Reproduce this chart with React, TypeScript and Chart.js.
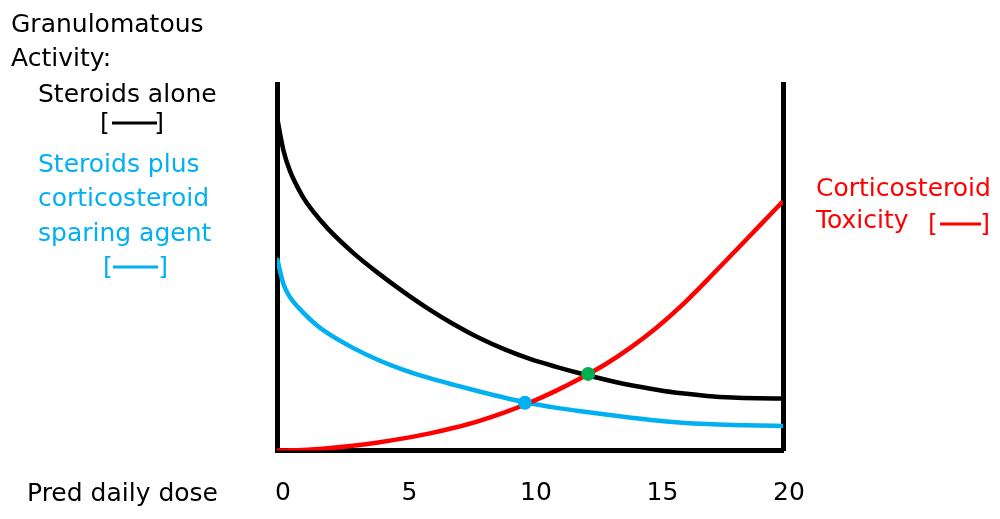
import React, { useEffect, useRef } from "react";
import { Chart, registerables } from "chart.js";

Chart.register(...registerables);

// ---- Data ----
const doseX = [0, 0.25, 0.5, 1, 1.5, 2, 3, 4, 5, 6, 7, 8, 9, 10, 11, 12, 13, 14, 15, 16, 17, 18, 19, 20];
const steroidsAlone = [91, 82, 76.5, 69.5, 64.6, 60.6, 54.0, 48.4, 43.3, 38.6, 34.4, 30.7, 27.6, 25.0, 22.9, 21.0, 19.3, 17.8, 16.6, 15.6, 14.9, 14.45, 14.25, 14.2];
const steroidsPlusSparing = [52.5, 45.5, 42.0, 37.9, 34.6, 32.0, 28.0, 24.7, 22.0, 19.8, 17.9, 16.1, 14.4, 12.9, 11.7, 10.7, 9.8, 8.95, 8.2, 7.6, 7.2, 6.95, 6.8, 6.7];
const toxicity = [0, 0, 0.04, 0.15, 0.35, 0.6, 1.3, 2.2, 3.3, 4.6, 6.2, 8.1, 10.4, 13.1, 16.2, 19.7, 23.6, 28.2, 33.5, 39.6, 46.5, 53.6, 60.8, 68.0];
const intersectionX = [9.8, 12.3];
const intersectionY = [13.0, 20.9];
const intersectionColors = ["#00B0F0", "#00B050"];
const xTickValues = [0, 5, 10, 15, 20];
const xMin = 0;
const xMax = 20;
const yMin = 0;
const yMax = 100;

const BLACK = "#000000";
const BLUE = "#00B0F0";
const RED = "#FF0000";
const FONT = '"DejaVu Sans", Verdana, sans-serif';
const FONT_SIZE = 25;

const toPoints = (xs: number[], ys: number[]) => xs.map((x, i) => ({ x, y: ys[i] }));

type TextItem = { text: string; x: number; y: number; color: string };
const annotationTexts: TextItem[] = [
  { text: "Granulomatous", x: 11, y: 32, color: BLACK },
  { text: "Activity:", x: 11, y: 66, color: BLACK },
  { text: "Steroids alone", x: 38, y: 102, color: BLACK },
  { text: "Steroids plus", x: 38, y: 172, color: BLUE },
  { text: "corticosteroid", x: 38, y: 206, color: BLUE },
  { text: "sparing agent", x: 38, y: 241, color: BLUE },
  { text: "Corticosteroid", x: 816, y: 196, color: RED },
  { text: "Toxicity", x: 816, y: 228, color: RED },
  { text: "Pred daily dose", x: 27, y: 501, color: BLACK },
];
type Bracket = { x1: number; x2: number; lineX1: number; lineX2: number; lineY: number; baseline: number; color: string };
const legendBrackets: Bracket[] = [
  { x1: 100, x2: 164, lineX1: 112, lineX2: 157, lineY: 123, baseline: 131, color: BLACK },
  { x1: 103, x2: 168, lineX1: 113, lineX2: 158, lineY: 267, baseline: 275, color: BLUE },
  { x1: 928, x2: 990, lineX1: 940, lineX2: 981, lineY: 224, baseline: 232, color: RED },
];

const annotationPlugin = {
  id: "annotations",
  afterDraw(chart: any) {
    const ctx = chart.ctx as CanvasRenderingContext2D;
    ctx.save();
    ctx.font = `${FONT_SIZE}px ${FONT}`;
    ctx.textBaseline = "alphabetic";
    for (const t of annotationTexts) {
      ctx.fillStyle = t.color;
      ctx.textAlign = "left";
      ctx.fillText(t.text, t.x, t.y);
    }
    for (const b of legendBrackets) {
      ctx.fillStyle = b.color;
      ctx.textAlign = "left";
      ctx.fillText("[", b.x1, b.baseline);
      ctx.textAlign = "right";
      ctx.fillText("]", b.x2, b.baseline);
      ctx.strokeStyle = b.color;
      ctx.lineWidth = 3;
      ctx.beginPath();
      ctx.moveTo(b.lineX1, b.lineY);
      ctx.lineTo(b.lineX2, b.lineY);
      ctx.stroke();
    }
    ctx.restore();
  },
};

export default function App() {
  const canvasRef = useRef<HTMLCanvasElement | null>(null);

  useEffect(() => {
    if (!canvasRef.current) return;
    const chart = new Chart(canvasRef.current, {
      type: "line",
      data: {
        datasets: [
          {
            label: "Intersections",
            data: toPoints(intersectionX, intersectionY),
            showLine: false,
            pointRadius: 7,
            pointBackgroundColor: intersectionColors,
            pointBorderColor: intersectionColors,
            pointBorderWidth: 0,
            order: 0,
          },
          {
            label: "Steroids alone",
            data: toPoints(doseX, steroidsAlone),
            borderColor: BLACK,
            borderWidth: 4.5,
            pointRadius: 0,
            cubicInterpolationMode: "monotone",
            fill: false,
            order: 2,
          },
          {
            label: "Steroids plus corticosteroid sparing agent",
            data: toPoints(doseX, steroidsPlusSparing),
            borderColor: BLUE,
            borderWidth: 4.5,
            pointRadius: 0,
            cubicInterpolationMode: "monotone",
            fill: false,
            order: 2,
          },
          {
            label: "Corticosteroid Toxicity",
            data: toPoints(doseX, toxicity),
            borderColor: RED,
            borderWidth: 4.5,
            pointRadius: 0,
            cubicInterpolationMode: "monotone",
            fill: false,
            order: 1,
          },
        ],
      },
      options: {
        animation: false,
        responsive: true,
        maintainAspectRatio: false,
        layout: { padding: { left: 277, right: 217, top: 84, bottom: 0 } },
        plugins: {
          legend: { display: false },
          tooltip: { enabled: false },
          title: { display: false },
        },
        scales: {
          x: {
            type: "linear",
            min: xMin,
            max: xMax,
            grid: { display: false, drawTicks: false },
            border: { display: true, color: BLACK, width: 5 },
            afterFit: (scale: any) => {
              scale.height = 68.5;
            },
            afterBuildTicks: (scale: any) => {
              scale.ticks = xTickValues.map((v) => ({ value: v }));
            },
            ticks: {
              color: BLACK,
              font: { family: FONT, size: FONT_SIZE },
              padding: 28,
              labelOffset: 6,
              maxRotation: 0,
              autoSkip: false,
            },
          },
          y: {
            type: "linear",
            position: "left",
            min: yMin,
            max: yMax,
            grid: { display: false, drawTicks: false },
            border: { display: true, color: BLACK, width: 5 },
            ticks: { display: false },
            afterFit: (scale: any) => {
              scale.width = 0;
            },
          },
          yRight: {
            type: "linear",
            position: "right",
            min: yMin,
            max: yMax,
            grid: { display: false, drawTicks: false },
            border: { display: true, color: BLACK, width: 5 },
            ticks: { display: false },
            afterFit: (scale: any) => {
              scale.width = 0;
            },
          },
        },
      },
      plugins: [annotationPlugin],
    } as any);
    return () => chart.destroy();
  }, []);

  return (
    <div style={{ position: "absolute", left: 0, top: 0, width: 1000, height: 519, background: "#fff" }}>
      <canvas ref={canvasRef} />
    </div>
  );
}
